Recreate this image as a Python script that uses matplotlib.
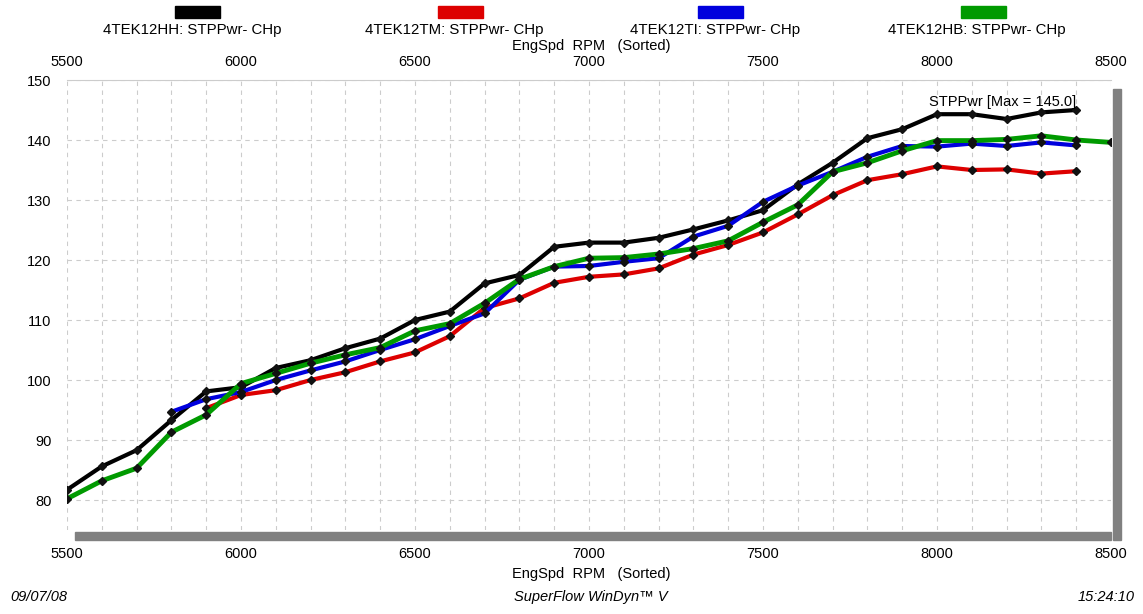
import numpy as np
import matplotlib
matplotlib.use('Agg')
import matplotlib.pyplot as plt
from matplotlib.patches import Rectangle

plt.rcParams['font.family'] = ['Liberation Sans', 'DejaVu Sans']

# engine speed, rpm
rpm_hh = list(range(5500, 8500, 100))
rpm_tm = list(range(5900, 8500, 100))
rpm_ti = list(range(5800, 8500, 100))
rpm_hb = list(range(5500, 8600, 100))

# corrected power, hp
hp_hh = [81.7, 85.6, 88.3, 93.3, 98.1, 98.8, 102.0, 103.3, 105.3, 106.9, 110.0, 111.4, 116.1, 117.5, 122.2,
         122.9, 122.9, 123.7, 125.1, 126.6, 128.3, 132.6, 136.2, 140.3, 141.8, 144.3, 144.3, 143.5, 144.6, 145.0]
hp_tm = [95.3, 97.5, 98.3, 100.0, 101.3, 103.1, 104.6, 107.3, 112.0, 113.6, 116.2, 117.2, 117.6,
         118.6, 120.9, 122.5, 124.6, 127.6, 130.8, 133.3, 134.3, 135.6, 135.0, 135.1, 134.4, 134.8]
hp_ti = [94.7, 96.8, 98.0, 100.0, 101.6, 103.1, 105.0, 106.8, 109.0, 111.1, 116.7, 118.9, 119.0, 119.7,
         120.3, 123.9, 125.7, 129.7, 132.4, 134.7, 137.2, 139.0, 138.9, 139.4, 139.0, 139.6, 139.1]
hp_hb = [80.2, 83.2, 85.3, 91.3, 94.2, 99.4, 101.1, 102.8, 104.2, 105.4, 108.2, 109.4, 112.8, 116.8, 118.9, 120.3,
         120.4, 121.0, 121.9, 123.2, 126.3, 129.2, 134.7, 136.2, 138.2, 139.9, 139.9, 140.1, 140.7, 140.0, 139.6]

labels = ['4TEK12HH: STPPwr- CHp', '4TEK12TM: STPPwr- CHp', '4TEK12TI: STPPwr- CHp', '4TEK12HB: STPPwr- CHp']
colors = ['#000000', '#dd0000', '#0000dd', '#009a00']
xticks = [5500, 6000, 6500, 7000, 7500, 8000, 8500]
yticks = [80, 90, 100, 110, 120, 130, 140, 150]

fig = plt.figure(figsize=(11.43, 6.14), dpi=100)
ax = fig.add_axes([67 / 1143, 1 - 530 / 614, (1111 - 67) / 1143, 450 / 614])

series = [(rpm_hh, hp_hh, 3.0), (rpm_tm, hp_tm, 3.0), (rpm_ti, hp_ti, 3.0), (rpm_hb, hp_hb, 3.5)]
for (x, y, lw), c in zip(series, colors):
    ax.plot(x, y, color=c, lw=lw, marker='D', ms=4, mfc='#111111', mec='#111111', zorder=3)

ax.set_xlim(5500, 8500)
ax.set_ylim(75, 150)
ax.set_xticks(np.arange(5500, 8501, 100), minor=True)
ax.set_xticks(xticks)
ax.set_yticks(yticks)
ax.grid(True, which='both', color='#cccccc', ls=(0, (4, 4)), lw=0.8)
ax.tick_params(axis='both', which='both', length=0)
ax.tick_params(axis='y', labelsize=10.5, pad=11)
ax.tick_params(axis='x', labelsize=10.5, pad=12)
for s in ['left', 'right', 'bottom']:
    ax.spines[s].set_visible(False)
ax.spines['top'].set_color('#cccccc')

# rpm scale repeated above the plot
ax2 = ax.secondary_xaxis('top')
ax2.set_xticks(xticks)
ax2.tick_params(length=0, labelsize=10.5, pad=8)
ax2.spines['top'].set_visible(False)

ax.text(8400, 146.4, 'STPPwr [Max = 145.0]', ha='right', va='center', fontsize=10.5)

# scroll bars
fig.add_artist(Rectangle((75 / 1143, 1 - 540 / 614), (1111 - 75) / 1143, 8 / 614,
                         transform=fig.transFigure, color='#808080'))
fig.add_artist(Rectangle((1113 / 1143, 1 - 540 / 614), 8 / 1143, 451 / 614,
                         transform=fig.transFigure, color='#808080'))

# legend across the top
swatch_x = [175, 438, 698, 961]
label_x = [192, 454, 715, 977]
for sx, lx, c, t in zip(swatch_x, label_x, colors, labels):
    fig.add_artist(Rectangle((sx / 1143, 1 - 18 / 614), 45 / 1143, 12 / 614,
                             transform=fig.transFigure, color=c))
    fig.text(lx / 1143, 1 - 30 / 614, t, ha='center', va='center', fontsize=10.8)

fig.text(591 / 1143, 1 - 46 / 614, 'EngSpd  RPM   (Sorted)', ha='center', va='center', fontsize=10.5)
fig.text(591 / 1143, 1 - 574 / 614, 'EngSpd  RPM   (Sorted)', ha='center', va='center', fontsize=10.5)
fig.text(10 / 1143, 1 - 597 / 614, '09/07/08', ha='left', va='center', fontsize=10.5, style='italic')
fig.text(591 / 1143, 1 - 597 / 614, 'SuperFlow WinDyn\u2122 V', ha='center', va='center', fontsize=10.5,
         style='italic')
fig.text(1135 / 1143, 1 - 597 / 614, '15:24:10', ha='right', va='center', fontsize=10.5, style='italic')

fig.savefig('out.png', dpi=100)
